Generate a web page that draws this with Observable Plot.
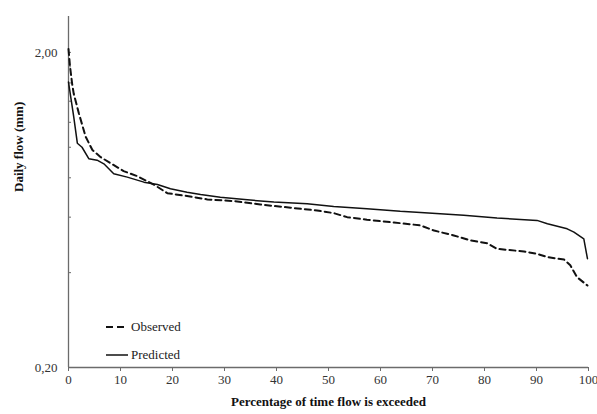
<!DOCTYPE html>
<html><head><meta charset="utf-8">
<script src="https://cdn.jsdelivr.net/npm/d3@7"></script>
<script src="https://cdn.jsdelivr.net/npm/@observablehq/plot@0.6"></script>
<style>
body{margin:0;background:#fff;}
#wrap{position:relative;width:597px;height:414px;font-family:"Liberation Serif",Tinos,"DejaVu Serif",serif;}
#wrap svg text{font-family:"Liberation Serif",Tinos,"DejaVu Serif",serif;}
.leg{position:absolute;left:105px;height:16px;font-size:13px;color:#222;display:flex;align-items:center;}
.leg svg{margin-right:2px;}
</style></head><body><div id="wrap"></div>
<script>
// Observed flow duration curve (percentage exceeded, daily flow mm)
const obsX = [0, 0.3, 0.7, 1.0, 2.0, 3.3, 4.6, 6.2, 8.1, 10.6, 13.2, 16.5, 19.0, 22.8, 26.7, 31.8, 36.9, 42.7, 47.8, 51.0, 53.6, 57.4, 62.6, 67.7, 70.3, 74.1, 77.3, 80.5, 82.4, 87.6, 90.1, 92.1, 95.3, 96.5, 97.8, 99.8];
const obsY = [2.05, 1.80, 1.59, 1.48, 1.28, 1.08, 0.98, 0.93, 0.89, 0.84, 0.81, 0.76, 0.715, 0.70, 0.683, 0.675, 0.658, 0.643, 0.630, 0.618, 0.600, 0.589, 0.577, 0.565, 0.544, 0.525, 0.506, 0.496, 0.476, 0.467, 0.459, 0.448, 0.440, 0.422, 0.387, 0.364];
// Predicted
const predX = [0, 1.0, 1.7, 2.6, 3.9, 5.5, 6.8, 8.7, 11.3, 14.5, 17.1, 19.6, 22.8, 25.4, 29.2, 34.4, 39.5, 45.9, 51.0, 57.4, 63.8, 67.7, 76.0, 82.4, 90.1, 92.1, 95.9, 97.2, 99.1, 99.8];
const predY = [1.61, 1.25, 1.03, 1.00, 0.92, 0.91, 0.886, 0.824, 0.804, 0.775, 0.762, 0.738, 0.720, 0.708, 0.694, 0.681, 0.670, 0.662, 0.649, 0.638, 0.626, 0.621, 0.608, 0.596, 0.586, 0.572, 0.551, 0.538, 0.512, 0.443];

const xTicks = [0, 10, 20, 30, 40, 50, 60, 70, 80, 90, 100];
const yMajor = [0.2, 2.0];
const yMinor = [0.4, 0.6, 0.8, 1.0, 1.2, 1.4, 1.6, 1.8, 2.0];
const xDomain = [0, 100];
const yDomain = [0.2, 2.6];
const seriesNames = ["Observed", "Predicted"];
const xTitle = "Percentage of time flow is exceeded";
const yTitle = "Daily flow (mm)";

const obs = obsX.map((x, i) => ({x, y: obsY[i]}));
const pred = predX.map((x, i) => ({x, y: predY[i]}));
const axisColor = "#6b6b6b";
const serif = "'Liberation Serif', Tinos, 'DejaVu Serif', serif";

const chart = Plot.plot({
  width: 597, height: 414,
  marginLeft: 68, marginRight: 9, marginTop: 16, marginBottom: 47,
  style: {fontFamily: serif, fontSize: "13px", color: "#333", background: "#fff", overflow: "visible"},
  x: {domain: xDomain},
  y: {type: "log", domain: yDomain},
  marks: [
    Plot.axisX({ticks: xTicks, tickSize: 4, tickPadding: 3, stroke: axisColor, fill: "#333", label: null}),
    Plot.axisY({ticks: yMajor, tickSize: 0, tickPadding: 11, tickFormat: d => d.toFixed(2).replace(".", ","), fill: "#333", label: null}),
    Plot.axisY({ticks: yMinor, tickSize: 3, dx: 3, tickPadding: 0, tickFormat: () => "", stroke: axisColor, label: null}),
    Plot.ruleX([xDomain[0]], {y1: yDomain[0], y2: yDomain[1], stroke: axisColor, strokeWidth: 1.3}),
    Plot.ruleY([yDomain[0]], {x1: xDomain[0], x2: xDomain[1], stroke: axisColor, strokeWidth: 1.3}),
    Plot.line(obs, {x: "x", y: "y", stroke: "#111", strokeWidth: 2, strokeDasharray: "6,4"}),
    Plot.line(pred, {x: "x", y: "y", stroke: "#111", strokeWidth: 1.5}),
    Plot.text([yTitle], {frameAnchor: "left", dx: -50, rotate: -90, fontWeight: "bold", fontSize: 13, fill: "#111"}),
    Plot.text([xTitle], {frameAnchor: "bottom", dy: 38, fontWeight: "bold", fontSize: 13, fill: "#111"})
  ]
});
const wrap = document.getElementById("wrap");
wrap.appendChild(chart);

// legend
const legTop = [319, 347];
seriesNames.forEach((name, i) => {
  const d = document.createElement("div");
  d.className = "leg";
  d.style.top = legTop[i] + "px";
  d.innerHTML = `<svg width="24" height="16"><line x1="1" x2="23" y1="8" y2="8" stroke="#111" stroke-width="${i === 0 ? 2 : 1.5}" ${i === 0 ? 'stroke-dasharray="7,4"' : ''}/></svg><span>${name}</span>`;
  wrap.appendChild(d);
});
</script>
</body></html>
